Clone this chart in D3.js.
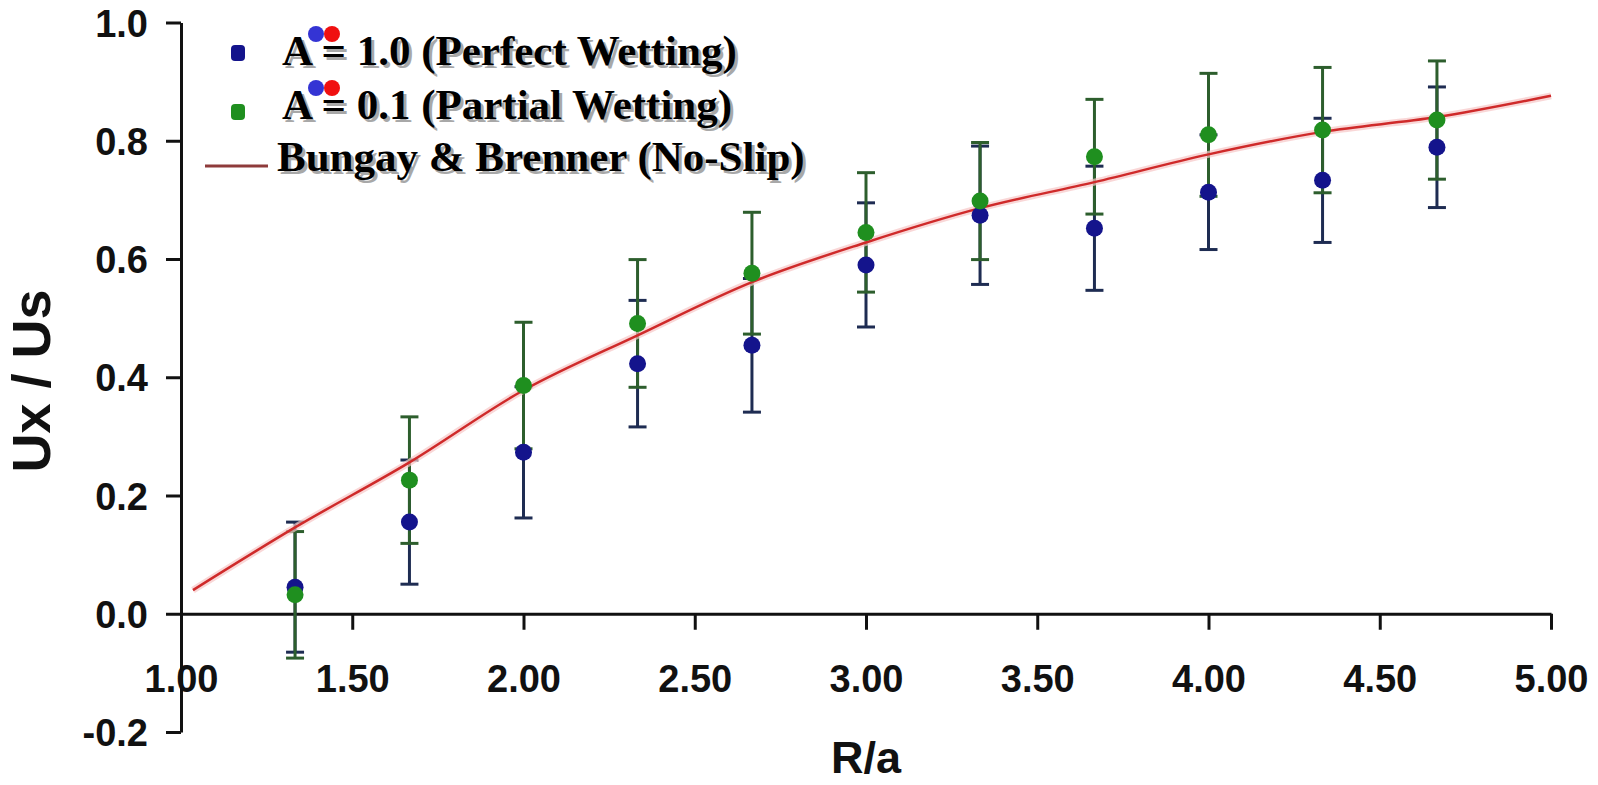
<!DOCTYPE html>
<html>
<head>
<meta charset="utf-8">
<script src="https://cdn.jsdelivr.net/npm/d3@7"></script>
<style>
  body { margin: 0; background: #fff; }
  svg { display: block; }
</style>
</head>
<body>
<div id="chart"></div>
<script>
// values
var rValues = [1.333, 1.667, 2.0, 2.333, 2.667, 3.0, 3.333, 3.667, 4.0, 4.333, 4.667];
var perfectU = [0.045, 0.155, 0.273, 0.423, 0.454, 0.59, 0.674, 0.652, 0.713, 0.733, 0.789];
var perfectErr = [0.11, 0.105, 0.111, 0.107, 0.113, 0.105, 0.117, 0.105, 0.097, 0.105, 0.102];
var partialU = [0.032, 0.226, 0.386, 0.491, 0.576, 0.645, 0.698, 0.773, 0.81, 0.818, 0.835];
var partialErr = [0.107, 0.107, 0.107, 0.108, 0.103, 0.101, 0.099, 0.097, 0.104, 0.106, 0.1];
var bbR = [1.035, 1.333, 1.667, 2.0, 2.333, 2.667, 3.0, 3.333, 3.667, 4.0, 4.333, 4.667, 5.0];
var bbU = [0.04, 0.146, 0.256, 0.378, 0.471, 0.561, 0.628, 0.686, 0.73, 0.777, 0.815, 0.84, 0.876];
var xTicks = [1.0, 1.5, 2.0, 2.5, 3.0, 3.5, 4.0, 4.5, 5.0];
var yTicks = [-0.2, 0.0, 0.2, 0.4, 0.6, 0.8, 1.0];
var legendLabels = ["A = 1.0 (Perfect Wetting)", "A = 0.1 (Partial Wetting)", "Bungay & Brenner (No-Slip)"];

var width = 1598, height = 785;
var blue = "#14148c", blueBar = "#1e2c52";
var green = "#1f8f1f", greenBar = "#2d5e2d";
var red = "#cf2a2a";

var svg = d3.select("#chart").append("svg")
  .attr("width", width)
  .attr("height", height);

var x = d3.scaleLinear().domain([1, 5]).range([181, 1551]);
var y = d3.scaleLinear().domain([-0.2, 1.0]).range([732, 22.5]);

var sansFont = "'Liberation Sans', Arial, sans-serif";
var serifFont = "'Liberation Serif', 'Times New Roman', serif";

// x axis sits on y = 0
var xAxis = svg.append("g")
  .attr("transform", "translate(0," + y(0) + ")")
  .call(d3.axisBottom(x).tickValues(xTicks).tickSize(16).tickSizeOuter(0)
    .tickFormat(function (d) { return d.toFixed(2); }));
xAxis.select(".domain").attr("stroke", "#111").attr("stroke-width", 3);
xAxis.selectAll(".tick line").attr("stroke", "#111").attr("stroke-width", 3);
xAxis.selectAll(".tick text")
  .attr("y", 51).attr("dy", "0.71em")
  .attr("fill", "#111")
  .style("font-family", sansFont).style("font-weight", "bold").style("font-size", "38px");

var yAxis = svg.append("g")
  .attr("transform", "translate(" + x(1) + ",0)")
  .call(d3.axisLeft(y).tickValues(yTicks).tickSize(15).tickSizeOuter(0)
    .tickFormat(function (d) { return d.toFixed(1); }));
yAxis.select(".domain").attr("stroke", "#111").attr("stroke-width", 3);
yAxis.selectAll(".tick line").attr("stroke", "#111").attr("stroke-width", 3);
yAxis.selectAll(".tick text")
  .attr("x", -33).attr("dy", "0.36em")
  .attr("fill", "#111")
  .style("font-family", sansFont).style("font-weight", "bold").style("font-size", "38px");

// axis titles
svg.append("text")
  .attr("x", x(3)).attr("y", 773)
  .attr("text-anchor", "middle")
  .attr("fill", "#111")
  .style("font-family", sansFont).style("font-weight", "bold").style("font-size", "45px")
  .text("R/a");

svg.append("text")
  .attr("transform", "translate(50,381) rotate(-90)")
  .attr("text-anchor", "middle")
  .attr("fill", "#111")
  .style("font-family", sansFont).style("font-weight", "bold").style("font-size", "54px")
  .text("Ux / Us");

// error bars
function errorBars(values, errs, color, cls) {
  var g = svg.append("g").attr("class", cls).attr("stroke", color).attr("stroke-width", 3);
  var rows = rValues.map(function (r, i) { return { r: r, u: values[i], e: errs[i] }; });
  g.selectAll("line.bar").data(rows).join("line").attr("class", "bar")
    .attr("x1", function (d) { return x(d.r); })
    .attr("x2", function (d) { return x(d.r); })
    .attr("y1", function (d) { return y(d.u - d.e); })
    .attr("y2", function (d) { return y(d.u + d.e); });
  [-1, 1].forEach(function (s) {
    g.selectAll("line.cap" + (s > 0 ? "t" : "b")).data(rows).join("line")
      .attr("class", "cap" + (s > 0 ? "t" : "b"))
      .attr("x1", function (d) { return x(d.r) - 9; })
      .attr("x2", function (d) { return x(d.r) + 9; })
      .attr("y1", function (d) { return y(d.u + s * d.e); })
      .attr("y2", function (d) { return y(d.u + s * d.e); });
  });
}
errorBars(perfectU, perfectErr, blueBar, "errPerfect");
errorBars(partialU, partialErr, greenBar, "errPartial");

// Bungay & Brenner curve
var line = d3.line()
  .x(function (d, i) { return x(bbR[i]); })
  .y(function (d) { return y(d); })
  .curve(d3.curveMonotoneX);
svg.append("path").datum(bbU)
  .attr("d", line).attr("fill", "none")
  .attr("stroke", "#f7c6c6").attr("stroke-width", 7).attr("opacity", 0.7);
svg.append("path").datum(bbU)
  .attr("d", line).attr("fill", "none")
  .attr("stroke", red).attr("stroke-width", 2.5);

// points
function points(values, color, cls) {
  svg.append("g").attr("class", cls)
    .selectAll("circle").data(values).join("circle")
    .attr("cx", function (d, i) { return x(rValues[i]); })
    .attr("cy", function (d) { return y(d); })
    .attr("r", 8.5)
    .attr("fill", color);
}
points(perfectU, blue, "perfect");
points(partialU, green, "partial");

// legend
var legend = svg.append("g").attr("class", "legend");
var rowY = [65, 119, 171];
legend.append("rect").attr("x", 231).attr("y", 45).attr("width", 14).attr("height", 16).attr("rx", 4).attr("fill", blue);
legend.append("rect").attr("x", 231).attr("y", 104).attr("width", 14).attr("height", 16).attr("rx", 4).attr("fill", green);
legend.append("line").attr("x1", 205).attr("x2", 268).attr("y1", 166).attr("y2", 166)
  .attr("stroke", "#8e3b3b").attr("stroke-width", 3);

legendLabels.forEach(function (t, i) {
  var tx = i < 2 ? 282 : 277;
  legend.append("text").attr("x", tx + 3).attr("y", rowY[i] + 3)
    .attr("fill", "#a8a8a8")
    .style("font-family", serifFont).style("font-weight", "bold").style("font-size", "43px")
    .text(t);
  legend.append("text").attr("x", tx).attr("y", rowY[i])
    .attr("fill", "#000")
    .style("font-family", serifFont).style("font-weight", "bold").style("font-size", "43px")
    .text(t);
});
// the two dots above the "A"
[0, 1].forEach(function (i) {
  legend.append("circle").attr("cx", 316).attr("cy", rowY[i] - 31).attr("r", 8).attr("fill", "#3434d4");
  legend.append("circle").attr("cx", 332).attr("cy", rowY[i] - 31).attr("r", 8).attr("fill", "#f01010");
});
</script>
</body>
</html>
